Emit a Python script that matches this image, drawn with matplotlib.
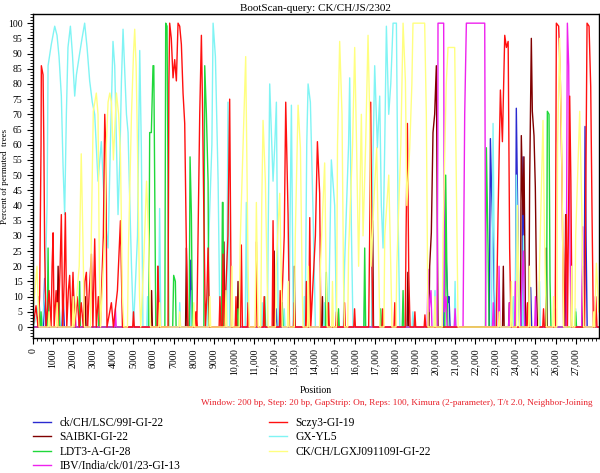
import matplotlib
matplotlib.use("Agg")
import matplotlib.pyplot as plt
from matplotlib.ticker import MultipleLocator, FixedLocator, FuncFormatter

plt.rcParams["font.family"] = ["Liberation Serif", "DejaVu Serif"]

names = ["ck/CH/LSC/99I-GI-22", "SAIBKI-GI-22", "LDT3-A-GI-28", "IBV/India/ck/01/23-GI-13",
         "Sczy3-GI-19", "GX-YL5", "CK/CH/LGXJ091109I-GI-22"]
colors = ["#2a2ad0", "#800000", "#1fd83a", "#ee22ee", "#ff1010", "#80f4f4", "#ffff80"]

# (position, percent) pairs
blue_pts = [(0, 0), (520, 0), (580, 16), (640, 0), (1440, 0), (1500, 10), (1560, 0), (7790, 0), (7847, 22),
            (7913, 8), (7960, 0), (12050, 0), (12100, 6), (12150, 0), (20440, 0), (20499, 45), (20565, 21),
            (20640, 8), (20698, 10), (20750, 0), (22700, 0), (22756, 62), (22823, 43), (22922, 21), (22980, 0),
            (23750, 0), (23797, 10), (23850, 0), (24000, 0), (24046, 72), (24100, 45), (24162, 10), (24220, 0),
            (24330, 0), (24378, 56), (24461, 17), (24520, 0), (24710, 0), (24760, 13), (24810, 0), (27420, 0),
            (27465, 66), (27515, 30), (27570, 0), (28150, 0)]

darkred_pts = [(0, 0), (260, 0), (300, 10), (340, 0), (1200, 0), (1250, 20), (1300, 0), (1960, 0), (2000, 15),
               (2040, 0), (2560, 0), (2600, 10), (2640, 0), (5860, 0), (5900, 12), (5940, 0), (6180, 0),
               (6220, 20), (6260, 0), (7590, 0), (7631, 26), (7670, 0), (9460, 0), (9500, 28), (9540, 0),
               (10160, 0), (10200, 15), (10240, 0), (11960, 0), (12000, 25), (12040, 0), (12960, 0),
               (13000, 20), (13040, 0), (14360, 0), (14400, 10), (14440, 0), (16860, 0), (16900, 35),
               (16940, 0), (18610, 0), (18650, 18), (18690, 0), (19700, 0), (19735, 20), (19818, 31),
               (19901, 64), (19984, 70), (20067, 86), (20110, 40), (20150, 0), (23360, 0), (23400, 20),
               (23440, 0), (23660, 0), (23700, 8), (23740, 0), (24250, 0), (24295, 63), (24378, 37),
               (24428, 56), (24494, 8), (24540, 0), (24670, 0), (24710, 48), (24793, 95), (24843, 71),
               (24926, 63), (24992, 46), (25059, 10), (25100, 0), (25500, 0), (25540, 26), (25580, 0),
               (26460, 0), (26500, 37), (26540, 0), (27310, 0), (27350, 20), (27390, 0), (28150, 0)]

green_pts = [(0, 0), (360, 0), (400, 5), (440, 0), (710, 0), (750, 26), (790, 0), (1260, 0), (1300, 8),
             (1340, 0), (2280, 0), (2320, 15), (2360, 0), (3260, 0), (3300, 10), (3340, 0), (5760, 0),
             (5805, 64), (5888, 64), (5971, 86), (6010, 86), (6054, 48), (6110, 0), (6560, 0), (6602, 100),
             (6668, 99), (6718, 50), (6750, 0), (6950, 0), (6999, 17), (7083, 15), (7120, 0), (7770, 0),
             (7814, 56), (7880, 37), (7930, 0), (8500, 0), (8544, 86), (8627, 70), (8710, 48), (8750, 0),
             (9380, 0), (9424, 41), (9453, 41), (9490, 0), (10160, 0), (10200, 6), (10240, 0), (11490, 0),
             (11528, 10), (11570, 0), (12360, 0), (12400, 8), (12440, 0), (14550, 0), (14594, 18), (14640, 0),
             (15160, 0), (15200, 6), (15240, 0), (16460, 0), (16503, 26), (16550, 0), (17260, 0), (17300, 6),
             (17340, 0), (18370, 0), (18412, 12), (18450, 0), (20490, 0), (20532, 50), (20598, 15), (20640, 0),
             (22510, 0), (22557, 59), (22640, 26), (22690, 0), (23960, 0), (24000, 5), (24040, 0), (25550, 0),
             (25590, 71), (25673, 70), (25723, 15), (25770, 0), (26960, 0), (27000, 5), (27040, 0), (28150, 0)]

magenta_pts = [(0, 0), (2060, 0), (2100, 5), (2140, 0), (4060, 0), (4100, 6), (4140, 0), (19610, 0),
               (19652, 19), (19700, 5), (19800, 12), (19850, 0), (20100, 0), (20140, 60), (20150, 100),
               (20432, 100), (20465, 5), (20550, 10), (20600, 0), (20960, 0), (21000, 6), (21040, 0),
               (21395, 0), (21478, 70), (21561, 100), (22474, 100), (22524, 0), (22860, 0), (22900, 8),
               (22940, 0), (23150, 0), (23188, 20), (23230, 0), (23660, 0), (23700, 8), (23740, 0), (23960, 0),
               (24000, 15), (24050, 0), (24250, 0), (24295, 10), (24400, 25), (24460, 0), (24960, 0),
               (25000, 10), (25040, 0), (25960, 0), (26000, 6), (26040, 0), (26530, 0), (26560, 60),
               (26586, 100), (26652, 86), (26719, 26), (26770, 0), (27300, 0), (27349, 33), (27400, 0),
               (27940, 0), (27980, 10), (28020, 0), (28150, 0)]

red_pts = [(0, 0), (150, 7), (250, 0), (330, 10), (400, 60), (415, 86), (500, 83), (540, 60), (580, 26),
           (650, 0), (800, 12), (900, 0), (950, 20), (1000, 31), (1050, 0), (1150, 12), (1250, 0), (1350, 20),
           (1410, 37), (1480, 0), (1550, 15), (1610, 37.6), (1680, 0), (1760, 12), (1826, 17), (1900, 0),
           (1990, 18), (2070, 0), (2200, 10), (2300, 0), (2400, 8), (2500, 0), (2580, 15), (2656, 18),
           (2720, 0), (2800, 12), (2905, 24), (2980, 0), (3070, 29), (3150, 0), (3250, 10), (3350, 0),
           (3500, 30), (3570, 70), (3620, 59), (3680, 0), (3900, 8), (4000, 0), (4200, 12), (4350, 35),
           (4450, 0), (4960, 0), (5000, 5), (5040, 0), (6180, 0), (6220, 20), (6280, 0), (6718, 0),
           (6760, 80), (6800, 100), (6880, 95), (6967, 82), (7050, 88), (7133, 81), (7216, 100), (7299, 99),
           (7382, 93), (7465, 77), (7548, 67), (7631, 26), (7714, 0), (8060, 0), (8100, 5), (8150, 0),
           (8212, 31), (8295, 70), (8378, 96), (8440, 70), (8500, 37), (8577, 0), (8650, 10), (8710, 26),
           (8780, 0), (9260, 0), (9300, 10), (9350, 0), (9420, 0), (9453, 24), (9520, 0), (9700, 30),
           (9785, 75), (9868, 0), (10060, 0), (10100, 10), (10140, 0), (10320, 0), (10366, 27), (10420, 0),
           (10660, 0), (10700, 8), (10740, 0), (11070, 0), (11113, 28), (11160, 0), (11460, 0), (11500, 10),
           (11540, 0), (11900, 0), (11943, 35), (12000, 0), (12260, 0), (12300, 12), (12340, 0), (12500, 30),
           (12574, 74), (12690, 37), (12760, 0), (12960, 0), (13000, 8), (13040, 0), (13560, 0), (13600, 15),
           (13640, 0), (13720, 0), (13769, 36), (13820, 0), (14050, 30), (14150, 61), (14262, 44), (14320, 0),
           (14660, 0), (14700, 8), (14740, 0), (15060, 0), (15100, 5), (15140, 0), (15460, 0), (15500, 8),
           (15540, 0), (15960, 0), (16000, 6), (16040, 0), (16700, 0), (16750, 30), (16802, 74), (16868, 20),
           (16920, 0), (17360, 0), (17400, 6), (17440, 0), (17960, 0), (18000, 8), (18040, 0), (18520, 0),
           (18560, 30), (18628, 67), (18694, 18), (18760, 0), (18960, 0), (19000, 5), (19040, 0), (19460, 0),
           (19500, 4), (19540, 0), (23050, 0), (23138, 37), (23254, 78), (23354, 61), (23470, 96),
           (23553, 92), (23640, 94), (23714, 26), (23780, 0), (24560, 0), (24600, 8), (24640, 0), (25360, 0),
           (25400, 6), (25440, 0), (25980, 0), (26000, 30), (26038, 100), (26154, 99), (26237, 81),
           (26320, 48), (26400, 0), (26480, 20), (26536, 37), (26590, 0), (26650, 40), (26702, 76),
           (26760, 48), (26820, 0), (27440, 0), (27482, 26), (27565, 100), (27665, 99), (27748, 79),
           (27814, 37), (27880, 0), (27960, 0), (28000, 10), (28060, 0), (28150, 0)]

cyan_pts = [(0, 0), (150, 3), (300, 8), (450, 0), (600, 12), (700, 40), (750, 86), (910, 93), (1080, 99),
            (1195, 96), (1295, 89), (1410, 76), (1495, 53), (1575, 37), (1660, 70), (1740, 92), (1860, 99),
            (1960, 90), (2075, 76), (2160, 83), (2320, 90), (2440, 95), (2570, 100), (2690, 92), (2820, 81),
            (2950, 74), (3070, 70), (3235, 48), (3400, 61), (3570, 37), (3735, 26), (3850, 60), (3980, 94),
            (4065, 86), (4150, 60), (4230, 37), (4320, 55), (4400, 81), (4480, 98), (4650, 70), (4730, 64),
            (4800, 45), (4900, 20), (5000, 0), (5200, 30), (5310, 91), (5390, 59), (5470, 0), (5660, 0),
            (5700, 10), (5740, 0), (6240, 0), (6300, 39), (6360, 0), (7260, 0), (7300, 8), (7340, 0),
            (7860, 0), (7900, 12), (7940, 0), (8660, 0), (8700, 20), (8900, 60), (8960, 100), (9075, 89),
            (9210, 48), (9300, 0), (9640, 0), (9700, 74), (9780, 0), (10260, 0), (10300, 6), (10340, 0),
            (10560, 0), (10615, 41), (10680, 0), (11360, 0), (11400, 8), (11440, 0), (11660, 0), (11700, 30),
            (11777, 80), (11943, 48), (12030, 60), (12109, 74), (12200, 0), (12460, 0), (12500, 6), (12540, 0),
            (12740, 0), (12780, 30), (12856, 73), (12950, 0), (13460, 0), (13500, 10), (13540, 0), (13620, 60),
            (13686, 80), (13800, 74), (13935, 37), (14050, 0), (14460, 0), (14500, 8), (14540, 0), (14710, 0),
            (14750, 20), (14843, 55), (15009, 40), (15100, 0), (15440, 0), (15500, 20), (15700, 60),
            (15756, 82), (15839, 33), (15920, 0), (16460, 0), (16500, 10), (16540, 0), (16860, 0), (16900, 50),
            (17000, 86), (17134, 59), (17250, 76), (17330, 40), (17416, 26), (17500, 60), (17582, 99),
            (17698, 70), (17800, 80), (17914, 100), (18080, 100), (18163, 37), (18250, 0), (18860, 0),
            (18900, 5), (18940, 0), (19960, 0), (20000, 12), (20040, 0), (20960, 0), (21000, 15), (21040, 0),
            (22800, 0), (22850, 30), (22889, 67), (22960, 15), (23020, 0), (23860, 0), (23900, 10), (23940, 0),
            (24000, 0), (24046, 50), (24150, 20), (24200, 0), (24360, 0), (24400, 30), (24440, 0), (25160, 0),
            (25200, 15), (25240, 0), (26960, 0), (27000, 6), (27040, 0), (28150, 0)]

yellow_pts = [(0, 5), (200, 20), (300, 0), (760, 0), (800, 5), (840, 0), (1160, 0), (1200, 8), (1240, 0),
              (1960, 0), (2000, 10), (2040, 0), (2300, 20), (2400, 57), (2480, 30), (2560, 0), (2860, 0),
              (2900, 30), (3000, 71), (3150, 77), (3235, 70), (3300, 20), (3360, 0), (3570, 30), (3650, 60),
              (3735, 74), (3820, 77), (3900, 74), (4000, 55), (4150, 77), (4260, 70), (4350, 57), (4450, 10),
              (4520, 0), (4700, 0), (4750, 26), (4900, 70), (5000, 90), (5060, 98), (5130, 86), (5200, 59),
              (5300, 10), (5360, 0), (5500, 20), (5650, 48), (5750, 30), (5850, 0), (6260, 0), (6300, 8),
              (6340, 0), (7260, 0), (7300, 5), (7340, 0), (7960, 0), (8000, 8), (8040, 0), (8760, 0),
              (8800, 10), (8840, 0), (9560, 0), (9600, 12), (9640, 0), (9860, 0), (9900, 20), (9940, 0),
              (10260, 0), (10300, 26), (10450, 60), (10582, 89), (10700, 20), (10760, 0), (11050, 0),
              (11113, 41), (11200, 0), (11330, 0), (11380, 40), (11445, 68), (11561, 48), (11650, 15),
              (11700, 0), (12060, 0), (12100, 20), (12275, 44), (12400, 0), (12660, 0), (12700, 15), (12740, 0),
              (13000, 0), (13050, 30), (13188, 73), (13304, 59), (13400, 10), (13440, 0), (13660, 0),
              (13700, 20), (13740, 0), (14260, 0), (14300, 20), (14511, 54), (14600, 10), (14640, 0),
              (14860, 0), (14900, 15), (14940, 0), (15100, 0), (15150, 60), (15258, 94), (15374, 70),
              (15450, 15), (15500, 0), (15660, 0), (15700, 25), (15900, 60), (16005, 92), (16100, 59),
              (16200, 20), (16337, 70), (16420, 30), (16550, 60), (16669, 96), (16750, 70), (16820, 20),
              (16950, 40), (17100, 59), (17200, 20), (17260, 0), (17460, 0), (17500, 30), (17700, 50),
              (17800, 20), (17860, 0), (18060, 0), (18100, 20), (18300, 60), (18412, 100), (18528, 81),
              (18600, 40), (18744, 59), (18850, 80), (18905, 100), (19100, 100), (19486, 100), (19569, 70),
              (19652, 0), (19960, 0), (20000, 10), (20040, 0), (20360, 0), (20400, 30), (20560, 80),
              (20648, 92), (20800, 92), (20980, 92), (21063, 48), (21150, 0), (23160, 0), (23200, 5),
              (23240, 0), (23760, 0), (23800, 15), (23840, 0), (24060, 0), (24100, 40), (24200, 0), (24660, 0),
              (24700, 20), (24740, 0), (25160, 0), (25200, 20), (25374, 68), (25450, 30), (25540, 0),
              (25860, 0), (25900, 10), (25940, 0), (26060, 0), (26100, 60), (26200, 95), (26300, 60),
              (26400, 0), (26760, 0), (26800, 20), (26840, 0), (26960, 0), (27000, 30), (27200, 71),
              (27300, 40), (27400, 0), (27860, 0), (27900, 5), (27940, 0), (28030, 21), (28150, 5)]

series = [blue_pts, darkred_pts, green_pts, magenta_pts, red_pts, cyan_pts, yellow_pts]
# bottom to top; the pale yellow ends up carrying the zero baseline
draw_order = [0, 1, 5, 2, 3, 4, 6]

fig = plt.figure(figsize=(6.0, 4.73), dpi=100)
ax = fig.add_axes([0.055, 0.2855, 0.943, 0.6848])

lines = [None] * 7
for i in draw_order:
    xs = [p[0] for p in series[i]]
    ys = [p[1] for p in series[i]]
    lines[i], = ax.plot(xs, ys, color=colors[i], lw=1.0, label=names[i])

ax.set_xlim(0, 28150)
ax.set_ylim(-3.6, 103)
ax.xaxis.set_major_locator(FixedLocator(list(range(0, 28000, 1000))))
ax.xaxis.set_minor_locator(MultipleLocator(200))
ax.yaxis.set_major_locator(MultipleLocator(5))
ax.yaxis.set_minor_locator(MultipleLocator(1))
ax.xaxis.set_major_formatter(FuncFormatter(lambda v, p: f"{int(v):,}" if v >= 10000 else f"{int(v)}"))
ax.tick_params(axis="x", labelrotation=90, labelsize=7, length=4, width=0.8)
ax.tick_params(axis="y", labelsize=7, length=4, width=0.8)
ax.tick_params(which="minor", length=2, width=0.6)
for s in ax.spines.values():
    s.set_linewidth(1.0)

ax.set_title("BootScan-query: CK/CH/JS/2302", fontsize=8, pad=2)
ax.set_ylabel("Percent of permuted  trees", fontsize=6.5)
ax.yaxis.set_label_coords(-0.042, 0.5)
ax.set_xlabel("Position", fontsize=7, labelpad=8)

fig.text(0.987, 0.148, "Window: 200 bp, Step: 20 bp, GapStrip: On, Reps: 100, Kimura (2-parameter), T/t 2.0, Neighbor-Joining",
         color="#e8202a", fontsize=6.7, ha="right", va="center")

leg_kw = dict(loc="upper left", frameon=False, fontsize=8.3, handlelength=1.6, handletextpad=0.7,
              labelspacing=0.2, borderaxespad=0, borderpad=0)
fig.legend(handles=lines[:4], bbox_to_anchor=(0.055, 0.118), **leg_kw)
fig.legend(handles=lines[4:], bbox_to_anchor=(0.448, 0.118), **leg_kw)

fig.savefig("out.png", dpi=100)
